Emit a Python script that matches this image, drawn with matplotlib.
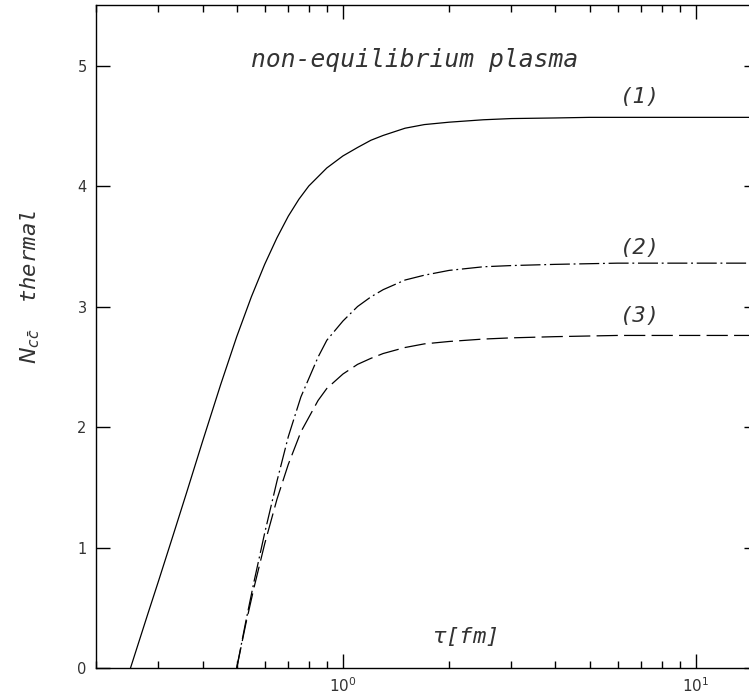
import matplotlib
matplotlib.use("Agg")
import matplotlib.pyplot as plt
from matplotlib.ticker import LogLocator, NullFormatter, FixedLocator

# ---- data ----
tau1 = [0.25, 0.28, 0.30, 0.33, 0.36, 0.40, 0.45, 0.50, 0.55, 0.60, 0.65, 0.70,
        0.75, 0.80, 0.90, 1.0, 1.1, 1.2, 1.3, 1.5, 1.7, 2.0, 2.5, 3.0, 4.0,
        5.0, 8.0, 15.0]
n1 = [0.0, 0.45, 0.72, 1.10, 1.45, 1.88, 2.35, 2.75, 3.08, 3.35, 3.57, 3.75,
      3.89, 4.00, 4.15, 4.25, 4.32, 4.38, 4.42, 4.48, 4.51, 4.53, 4.55, 4.56,
      4.565, 4.57, 4.57, 4.57]

tau2 = [0.50, 0.53, 0.56, 0.60, 0.65, 0.70, 0.76, 0.85, 0.90, 1.0, 1.1, 1.2,
        1.3, 1.5, 1.7, 2.0, 2.5, 3.0, 4.0, 6.0, 10.0, 15.0]
n2 = [0.0, 0.38, 0.72, 1.12, 1.55, 1.92, 2.25, 2.58, 2.72, 2.88, 3.00, 3.08,
      3.14, 3.22, 3.26, 3.30, 3.33, 3.34, 3.35, 3.36, 3.36, 3.36]

tau3 = [0.50, 0.53, 0.56, 0.60, 0.65, 0.70, 0.76, 0.85, 0.90, 1.0, 1.1, 1.2,
        1.3, 1.5, 1.7, 2.0, 2.5, 3.0, 4.0, 6.0, 10.0, 15.0]
n3 = [0.0, 0.36, 0.67, 1.03, 1.40, 1.69, 1.96, 2.22, 2.32, 2.44, 2.52, 2.57,
      2.61, 2.66, 2.69, 2.71, 2.73, 2.74, 2.75, 2.76, 2.76, 2.76]

yticks = [0, 1, 2, 3, 4, 5]
curve_labels = ["(1)", "(2)", "(3)"]

# ---- figure ----
fig = plt.figure(figsize=(7.49, 7.00), dpi=100)
L, R, B, T = 96.3, 758.0, 668.0, 5.3
ax = fig.add_axes([L / 749, (700 - B) / 700, (R - L) / 749, (B - T) / 700])

ax.plot(tau1, n1, color="black", lw=0.9)
ax.plot(tau2, n2, color="black", lw=0.9, linestyle=(0, (16, 3, 1.5, 3)))
ax.plot(tau3, n3, color="black", lw=0.9, linestyle=(0, (17, 5)))

ax.set_xscale("log")
ax.set_xlim(0.2, 15)
ax.set_ylim(0, 5.5)

ax.xaxis.set_major_locator(LogLocator(base=10, numticks=10))
ax.xaxis.set_minor_locator(LogLocator(base=10, subs=range(2, 10), numticks=20))
ax.xaxis.set_minor_formatter(NullFormatter())
ax.yaxis.set_major_locator(FixedLocator(yticks))
ax.yaxis.set_minor_locator(FixedLocator([]))

ax.tick_params(which="both", direction="in", top=True, right=True, width=1.0, color="black")
ax.tick_params(which="major", length=10)
ax.tick_params(which="minor", length=5)
ax.tick_params(axis="y", labelsize=10.5, labelcolor="#333333", pad=7)
ax.tick_params(axis="x", labelsize=11, labelcolor="#333333", pad=6)

for sp in ax.spines.values():
    sp.set_linewidth(1.0)

mono = dict(family="DejaVu Sans Mono", style="oblique", color="#333333")

def fx(px):
    return (px - L) / (R - L)

def fy(py):
    return (B - py) / (B - T)

ax.text(fx(251), fy(60), "non-equilibrium plasma", transform=ax.transAxes,
        ha="left", va="center", fontsize=17.7, **mono)
for lab, py in zip(curve_labels, [97, 248, 316]):
    ax.text(fx(620), fy(py), lab, transform=ax.transAxes,
            ha="left", va="center", fontsize=16, **mono)
ax.text(fx(432), fy(636), r"$\tau$[fm]", transform=ax.transAxes,
        ha="left", va="center", fontsize=16, **mono)

fig.text(30 / 749, 1 - 287 / 700, r"$N_{c\bar{c}}$  thermal", rotation=90,
         ha="center", va="center", fontsize=16, **mono)

fig.savefig("out.png", dpi=100)
